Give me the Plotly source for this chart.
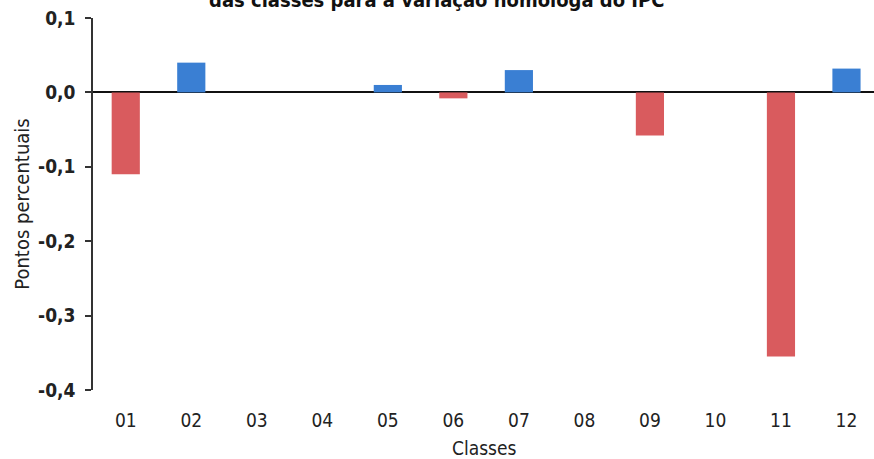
import plotly.graph_objects as go

# Contribuição de cada classe (pontos percentuais)
classes = ["01", "02", "03", "04", "05", "06", "07", "08", "09", "10", "11", "12"]
valores = [-0.11, 0.04, 0.0, 0.0, 0.01, -0.008, 0.03, 0.0, -0.058, 0.0, -0.355, 0.032]
y_ticks = [0.1, 0.0, -0.1, -0.2, -0.3, -0.4]
y_tick_text = ["0,1", "0,0", "-0,1", "-0,2", "-0,3", "-0,4"]

RED = "#d95b5e"
BLUE = "#3a7fd3"
colors = [BLUE if v > 0 else RED for v in valores]

fig = go.Figure()
fig.add_trace(go.Bar(
    x=list(range(len(classes))),
    y=valores,
    marker=dict(color=colors, line=dict(width=0)),
    width=0.43,
    showlegend=False,
))

font_main = "DejaVu Sans Condensed, DejaVu Sans, sans-serif"

fig.update_layout(
    width=874, height=459,
    margin=dict(l=93, r=0, t=18, b=69),
    plot_bgcolor="white", paper_bgcolor="white",
    font=dict(family=font_main, color="#222"),
    xaxis=dict(
        range=[-0.5, 11.42],
        tickmode="array",
        tickvals=list(range(len(classes))),
        ticktext=classes,
        showgrid=False, zeroline=False, showline=False,
        ticks="",
        ticklabelstandoff=17,
        tickfont=dict(size=19, family=font_main, color="#222"),
    ),
    yaxis=dict(
        range=[-0.4, 0.1],
        tickmode="array",
        tickvals=y_ticks,
        ticktext=y_tick_text,
        showgrid=False,
        zeroline=True, zerolinecolor="#111", zerolinewidth=2,
        showline=True, linecolor="#333", linewidth=1.5,
        ticks="outside", ticklen=6, tickcolor="#333", tickwidth=1.5,
        ticklabelstandoff=6,
        tickfont=dict(size=19, family=font_main, color="#222", weight="bold"),
        title=dict(text="Pontos percentuais", font=dict(size=20, family=font_main, color="#222"), standoff=3),
    ),
    annotations=[
        dict(
            text="<b>das classes para a variação homóloga do IPC</b>",
            xref="paper", yref="paper", x=0.44, y=1.012,
            xanchor="center", yanchor="bottom",
            showarrow=False,
            font=dict(size=20, family=font_main, color="#111"),
        ),
        dict(
            text="Classes",
            xref="paper", yref="paper", x=0.5, y=-0.156,
            xanchor="center", yanchor="middle",
            showarrow=False,
            font=dict(size=19, family=font_main, color="#222"),
        ),
    ],
)

fig.write_html("out.html")
